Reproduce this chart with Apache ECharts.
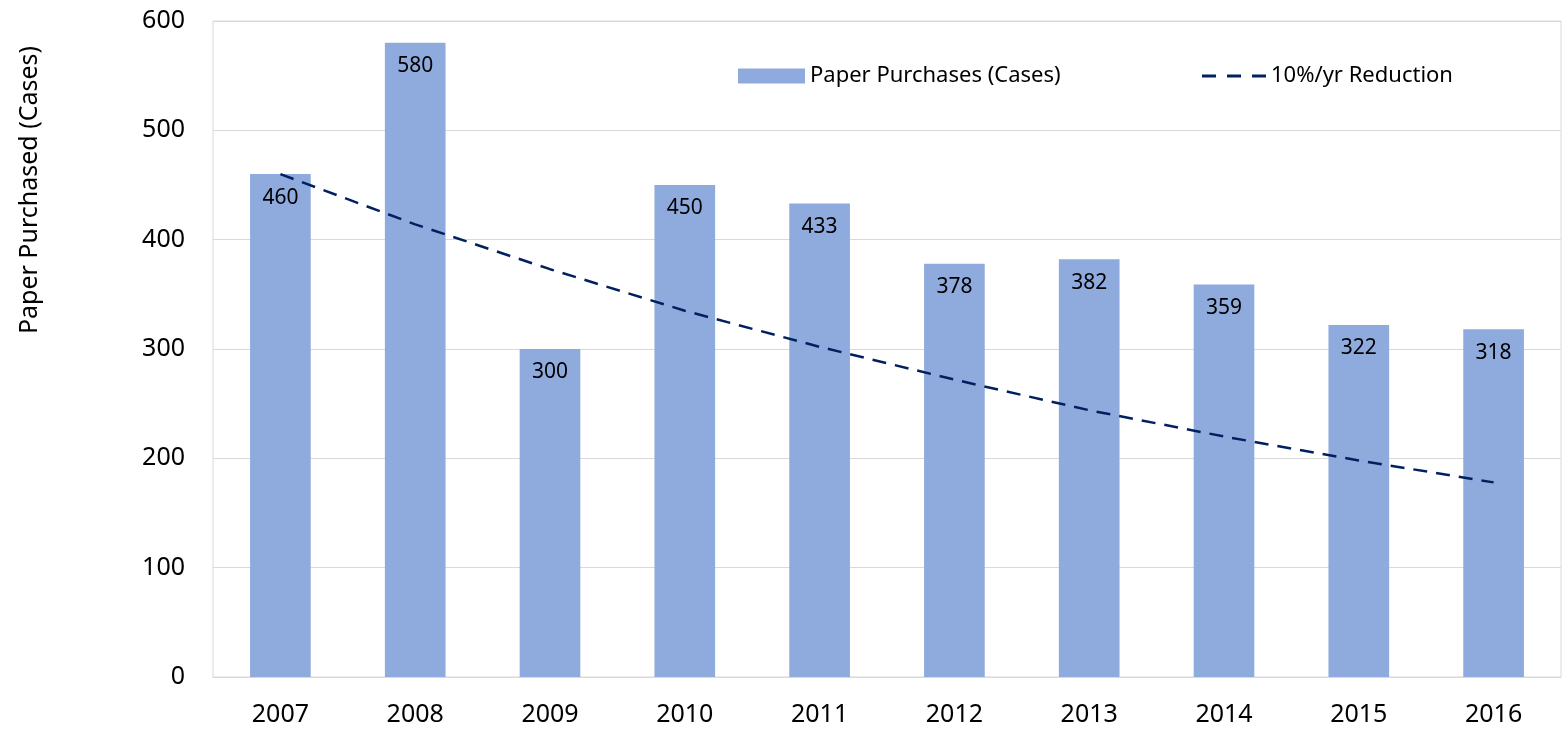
<!DOCTYPE html>
<html>
<head>
<meta charset="utf-8">
<script src="https://cdn.jsdelivr.net/npm/echarts@6/dist/echarts.min.js"></script>
<style>
  html, body { margin: 0; padding: 0; background: #fff; }
  #chart { width: 1564px; height: 737px; }
</style>
</head>
<body>
<div id="chart"></div>
<script>
// 年份 / 数据
var years = ['2007', '2008', '2009', '2010', '2011', '2012', '2013', '2014', '2015', '2016']
var purchases = [460, 580, 300, 450, 433, 378, 382, 359, 322, 318]
var reduction = [460, 414, 373, 335, 302, 272, 244, 220, 198, 178]
var yTicks = [0, 100, 200, 300, 400, 500, 600]

var font = '"Noto Sans", "Open Sans", sans-serif'
var myChart = echarts.init(document.getElementById('chart'))

var option = {
    animation: false,
    textStyle: { fontFamily: font },
    grid: {
        left: 213,
        right: 3,
        top: 21,
        bottom: 60,
        show: true,
        borderColor: '#d9d9d9',
        borderWidth: 1
    },
    legend: [
        {
            data: [{ name: 'Paper Purchases (Cases)', icon: 'rect' }],
            left: 733,
            top: 60,
            itemWidth: 67,
            itemHeight: 15,
            itemGap: 0,
            textStyle: { fontSize: 22, color: '#000', fontFamily: font }
        },
        {
            // 虚线图例
            data: [{ name: '10%/yr Reduction', icon: 'path://M0,0h14v3h-14z M25,0h14v3h-14z M50,0h14v3h-14z' }],
            left: 1197,
            top: 60,
            itemWidth: 64,
            itemHeight: 3,
            textStyle: { fontSize: 22, color: '#000', fontFamily: font }
        }
    ],
    graphic: [
        {
            type: 'text',
            x: 30,
            y: 190,
            rotation: Math.PI / 2,
            style: {
                text: 'Paper Purchased (Cases)',
                font: '25px ' + font,
                fill: '#000',
                align: 'center',
                verticalAlign: 'middle'
            }
        }
    ],
    xAxis: {
        type: 'category',
        data: years,
        axisLine: { lineStyle: { color: '#d9d9d9' } },
        axisTick: { show: false },
        axisLabel: { fontSize: 25, color: '#000', margin: 25, fontFamily: font }
    },
    yAxis: {
        type: 'value',
        min: yTicks[0],
        max: yTicks[yTicks.length - 1],
        interval: 100,
        axisLine: { show: false },
        axisTick: { show: false },
        splitLine: { lineStyle: { color: '#d9d9d9' } },
        axisLabel: { fontSize: 25, color: '#000', margin: 28, fontFamily: font }
    },
    series: [
        {
            name: 'Paper Purchases (Cases)',
            type: 'bar',
            data: purchases,
            barWidth: '45%',
            itemStyle: { color: '#8faadc' },
            label: {
                show: true,
                position: 'insideTop',
                distance: 13,
                fontSize: 21,
                color: '#000',
                fontFamily: font
            }
        },
        {
            name: '10%/yr Reduction',
            type: 'line',
            data: reduction,
            symbol: 'none',
            z: 5,
            lineStyle: { color: '#002060', width: 2.5, type: [14, 9] },
            itemStyle: { color: '#002060' }
        }
    ]
}

option && myChart.setOption(option)
window.addEventListener('resize', function () {
    myChart.resize()
})
</script>
</body>
</html>
